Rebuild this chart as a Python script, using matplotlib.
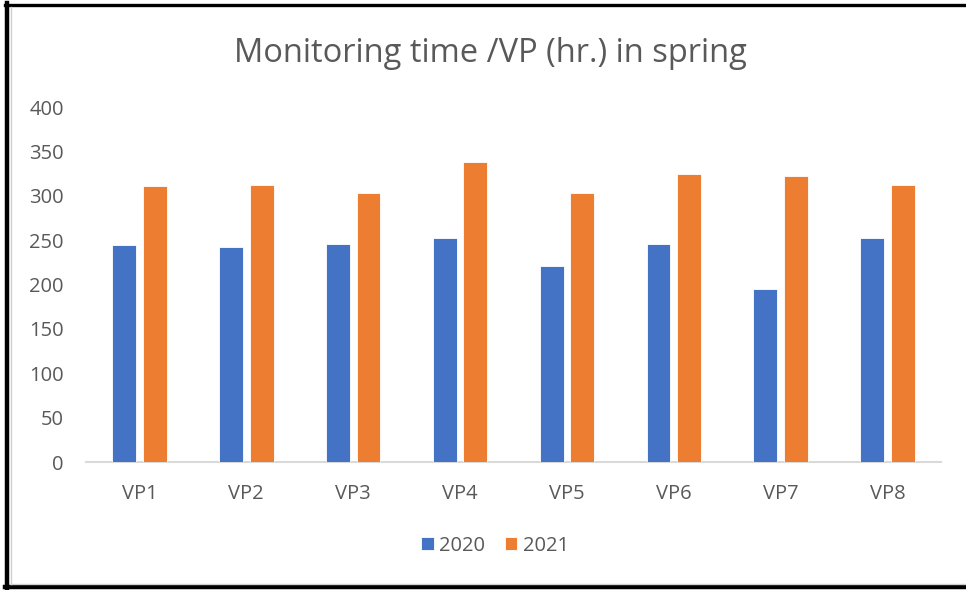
import matplotlib
matplotlib.use("Agg")
import matplotlib.pyplot as plt
import numpy as np
from matplotlib.lines import Line2D

categories = ["VP1", "VP2", "VP3", "VP4", "VP5", "VP6", "VP7", "VP8"]
series_names = ["2020", "2021"]
values_2020 = [245, 243, 246, 253, 221, 246, 195, 253]
values_2021 = [311, 312, 303, 338, 303, 325, 323, 312]
yticks = [0, 50, 100, 150, 200, 250, 300, 350, 400]

W, H = 966, 590
fig = plt.figure(figsize=(W / 100, H / 100), dpi=100)
fig.patch.set_facecolor("white")
plt.rcParams['font.family'] = ['Open Sans', 'DejaVu Sans']

def fx(px):
    return px / W

def fy(py):
    return 1 - py / H

ax = fig.add_axes([fx(86), fy(462), fx(941) - fx(86), fy(107.3) - fy(462)])
x = np.arange(len(categories))
w = 0.224
off = 0.143
ax.bar(x - off, values_2020, w, color="#4472C4", edgecolor="white", linewidth=0.6, label=series_names[0], zorder=3)
ax.bar(x + off, values_2021, w, color="#ED7D31", edgecolor="white", linewidth=0.6, label=series_names[1], zorder=3)
ax.set_xlim(-0.5, len(categories) - 0.5)
ax.set_ylim(0, 400)
ax.set_yticks(yticks)
ax.set_xticks(x)
ax.set_xticklabels(categories)
for s in ["top", "right", "left"]:
    ax.spines[s].set_visible(False)
ax.spines["bottom"].set_color("#D9D9D9")
ax.spines["bottom"].set_linewidth(1.5)
ax.tick_params(axis="both", length=0, colors="#595959", labelsize=14.5)
ax.tick_params(axis="x", pad=16)
ax.tick_params(axis="y", pad=16)
for lab in ax.get_yticklabels():
    lab.set_horizontalalignment("right")

fig.text(fx(490), fy(53), "Monitoring time /VP (hr.) in spring", ha="center", va="center",
         fontsize=23.5, color="#595959")

leg = fig.legend(loc="center", bbox_to_anchor=(fx(495), fy(546)), ncol=2, frameon=False,
                 fontsize=14.5, handlelength=0.62, handleheight=0.62, handletextpad=0.25,
                 columnspacing=1.0)
for t in leg.get_texts():
    t.set_color("#595959")

# chart frame
fig.add_artist(Line2D([fx(7), fx(7)], [fy(3), fy(589)], color="black", linewidth=3.2))
fig.add_artist(Line2D([fx(5), fx(966)], [fy(4.5), fy(4.5)], color="black", linewidth=2.4))
fig.add_artist(Line2D([fx(5), fx(966)], [fy(587), fy(587)], color="black", linewidth=3.2))
fig.add_artist(Line2D([fx(10.5), fx(10.5)], [fy(7), fy(584)], color="#D0D0D0", linewidth=1))
fig.add_artist(Line2D([fx(10), fx(966)], [fy(583.5), fy(583.5)], color="#D0D0D0", linewidth=1))

fig.savefig("out.png", dpi=100)
